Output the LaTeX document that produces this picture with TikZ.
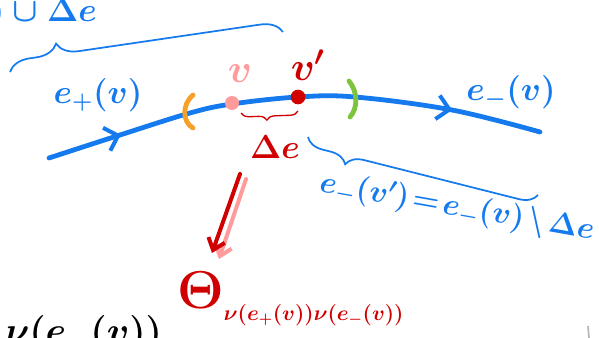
\RequirePackage{fix-cm}
\documentclass[tikz,border=0pt]{standalone}
\usepackage{amsmath}
\usepackage{xcolor}
\usepackage{tikz}
\usetikzlibrary{arrows.meta, decorations.pathreplacing, decorations.markings}
\definecolor{penblue}{RGB}{20,122,238}
\definecolor{penred}{RGB}{208,0,0}
\definecolor{penpink}{RGB}{255,155,155}
\definecolor{penorange}{RGB}{245,160,40}
\definecolor{pengreen}{RGB}{125,195,60}

\begin{document}
\begin{tikzpicture}[x=0.75pt, y=-0.75pt,
    hand/.style={inner sep=0pt},
    bluebrace/.style={draw=penblue, line width=1.3pt, decorate},
    tip/.style={-{Straight Barb[length=8pt, width=13pt]}},
    dot/.style={circle, inner sep=0pt, minimum size=10.5pt}]
  \useasboundingbox (0,0) rectangle (599,338);
  \clip (0,0) rectangle (599,338);

  \draw[penblue, line width=3.6pt, line cap=round, postaction={decorate},
    decoration={markings,
      mark=at position 0.15 with {\arrow[line width=3pt]{Straight Barb[length=9pt, width=18pt]}},
      mark=at position 0.82 with {\arrow[line width=3pt]{Straight Barb[length=9pt, width=18pt]}}}]
    plot[smooth, tension=0.6] coordinates {(49,158) (120,135) (190,113) (232,104) (298,97) (355,97) (452,110) (540,132)};

  \draw[penorange, line width=3.6pt, line cap=round] (193,95) .. controls (182,104) and (182,122) .. (193,128);
  \draw[pengreen, line width=3.6pt, line cap=round] (349,81) .. controls (358,92) and (358,108) .. (350,117);

  \node[dot, fill=penpink] (dv) at (232,103) {};
  \node[dot, fill=penred, minimum size=11pt] (dvp) at (298,97) {};

  \node[hand, text=penpink, font=\fontsize{30}{30}\selectfont\boldmath] (v) at (240,74) {$v$};
  \node[hand, text=penred, font=\fontsize{30}{30}\selectfont\boldmath] (vp) at (308,65) {$v'$};
  \node[hand, text=penred, font=\fontsize{25}{25}\selectfont\boldmath] (de) at (275,147) {$\Delta e$};
  \node[hand, text=penblue, font=\fontsize{25}{25}\selectfont\boldmath] (ep) at (98,95) {$e_+(v)$};
  \node[hand, text=penblue, font=\fontsize{25}{25}\selectfont\boldmath] (em) at (511,92) {$e_-(v)$};
  \node[hand, text=penblue, font=\fontsize{23}{23}\selectfont\boldmath, rotate=-10] (diff) at (457,208) {$e_-(v')\mkern2mu{=}\mkern2mu e_-(v)\mkern2mu{\setminus}\mkern2mu\Delta e$};
  \node[hand, text=penblue, font=\fontsize{25}{25}\selectfont\boldmath, anchor=base east] (union) at (97,22) {$e_+(v')=e_+(v)\cup\Delta e$};
  \node[hand, text=penred, anchor=base west] (theta) at (177,308) {{\fontsize{40}{40}\selectfont\boldmath$\Theta$}\raisebox{-9pt}{\fontsize{16}{16}\selectfont\boldmath$\nu(e_+(v))\nu(e_-(v))$}};
  \node[hand, text=black, font=\fontsize{28}{28}\selectfont\boldmath, anchor=base west] (old) at (5,343) {$\nu(e_-(v))$};

  \draw[bluebrace, decoration={brace, amplitude=16pt, aspect=0.18}] (10,72) -- (283,32);
  \draw[bluebrace, decoration={brace, mirror, amplitude=13pt, aspect=0.18}] (308,137) -- (538,195);
  \draw[penred, line width=1pt, decorate, decoration={brace, mirror, amplitude=6pt, aspect=0.45}] (241,113) -- (298,111);

  \coordinate (ptop) at (246,179);
  \coordinate (pbot) at (219,259);
  \coordinate (rtop) at (240,174);
  \coordinate (rbot) at (212,253);
  \draw[penpink, line width=3pt, line cap=round, tip] (ptop) -- (pbot);
  \draw[penred, line width=3pt, line cap=round, tip] (rtop) -- (rbot);

  \draw[gray!60, line width=1.2pt] (588,326) -- (589,338);
\end{tikzpicture}
\end{document}
